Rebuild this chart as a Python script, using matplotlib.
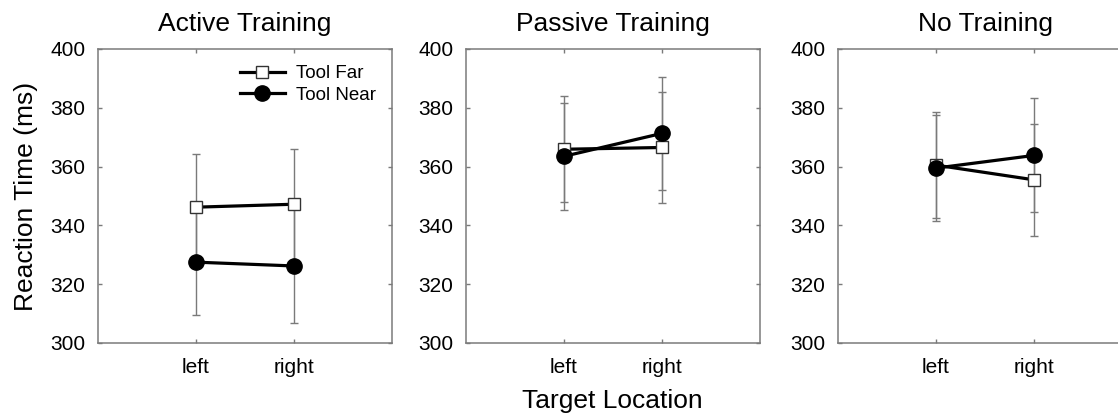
import numpy as np
import matplotlib
matplotlib.use("Agg")
import matplotlib.pyplot as plt

plt.rcParams['font.family'] = ['Liberation Sans', 'DejaVu Sans']

panels = ['Active Training', 'Passive Training', 'No Training']
locations = ['left', 'right']

# mean reaction times (ms), [left, right]
far_mean = [[346.2, 347.2], [365.9, 366.5], [360.5, 355.5]]
near_mean = [[327.5, 326.2], [363.5, 371.3], [359.5, 363.8]]
# error bar half-widths (ms)
far_err = [[18.1, 18.8], [18.1, 19.0], [18.0, 19.0]]
near_err = [[18.0, 19.3], [18.2, 19.1], [18.0, 19.4]]

fig = plt.figure(figsize=(11.18, 4.17), dpi=100)
W, H = 1118.0, 417.0
lefts = [98, 466, 838]
axw, axtop, axbot = 294, 49, 343

gray = '#7a7a7a'
x = np.arange(1, len(locations) + 1)

for i, name in enumerate(panels):
    ax = fig.add_axes([lefts[i] / W, (H - axbot) / H, axw / W, (axbot - axtop) / H])
    ax.errorbar(x, far_mean[i], yerr=far_err[i], fmt='none', ecolor=gray,
                elinewidth=1.0, capsize=3.2, capthick=1.0, zorder=1)
    ax.errorbar(x, near_mean[i], yerr=near_err[i], fmt='none', ecolor=gray,
                elinewidth=1.0, capsize=3.2, capthick=1.0, zorder=1)
    ax.plot(x, far_mean[i], color='black', lw=2.3, marker='s', ms=9,
            mfc='white', mec='#333333', mew=1.0, label='Tool Far', zorder=3)
    ax.plot(x, near_mean[i], color='black', lw=2.3, marker='o', ms=11,
            mfc='black', mec='black', label='Tool Near', zorder=4)
    ax.set_xlim(0, 3)
    ax.set_ylim(300, 400)
    ax.set_xticks(x)
    ax.set_xticklabels(locations)
    ax.set_yticks(np.arange(300, 401, 20))
    ax.tick_params(direction='in', length=3, width=1.0, color=gray,
                   top=True, right=True, labelsize=15)
    ax.tick_params(axis='x', pad=11)
    ax.tick_params(axis='y', pad=9)
    for s in ax.spines.values():
        s.set_color(gray)
        s.set_linewidth(1.1)
    ax.set_title(name, fontsize=19, pad=13)
    if i == 0:
        ax.set_ylabel('Reaction Time (ms)', fontsize=19, labelpad=9)
        ax.legend(loc='upper right', frameon=False, fontsize=13.5,
                  handlelength=2.4, borderaxespad=0.55, labelspacing=0.25,
                  handletextpad=0.6, borderpad=0.3)

fig.text(612 / W, (H - 401) / H, 'Target Location', fontsize=19,
         ha='center', va='center')

fig.savefig('out.png', dpi=100)
